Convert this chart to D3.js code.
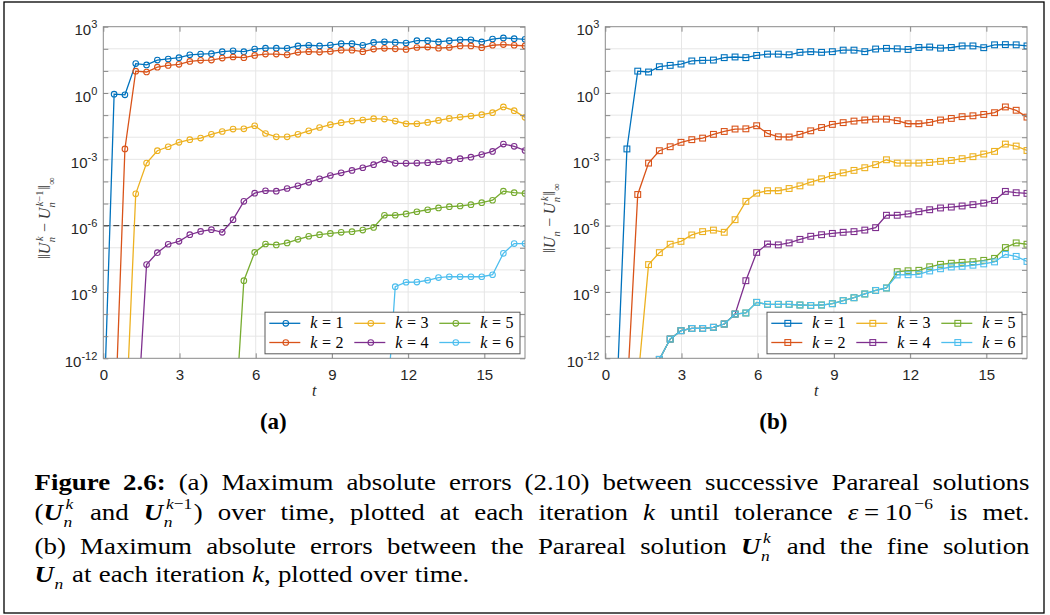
<!DOCTYPE html>
<html>
<head>
<meta charset="utf-8">
<script src="https://cdn.jsdelivr.net/npm/d3@7"></script>
<style>
  body { margin: 0; background: #fff; }
</style>
</head>
<body>
<script>
// time levels t_n, n = 0..39
const tValues = [0, 0.426, 0.851, 1.277, 1.703, 2.128, 2.554, 2.979, 3.405, 3.831,
  4.256, 4.682, 5.108, 5.533, 5.959, 6.385, 6.810, 7.236, 7.662, 8.087,
  8.513, 8.938, 9.364, 9.790, 10.215, 10.641, 11.067, 11.492, 11.918, 12.344,
  12.769, 13.195, 13.621, 14.046, 14.472, 14.897, 15.323, 15.749, 16.174, 16.600]

// (a) log10 ||U_n^k - U_n^(k-1)||_inf   (null = no point)
const aK1 = [-15.3, -0.05, -0.08, 1.33, 1.27, 1.49, 1.54, 1.60, 1.73, 1.76,
  1.78, 1.87, 1.91, 1.87, 1.99, 2.03, 2.03, 2.02, 2.13, 2.16,
  2.13, 2.17, 2.23, 2.23, 2.16, 2.29, 2.32, 2.29, 2.26, 2.37,
  2.37, 2.31, 2.37, 2.41, 2.41, 2.31, 2.44, 2.49, 2.46, 2.43]
const aK2 = [null, -15.96, -2.53, 0.99, 0.95, 1.17, 1.25, 1.30, 1.43, 1.48,
  1.49, 1.58, 1.63, 1.60, 1.70, 1.76, 1.76, 1.73, 1.84, 1.87,
  1.85, 1.88, 1.94, 1.94, 1.87, 1.99, 2.02, 2.00, 1.97, 2.06,
  2.08, 2.03, 2.06, 2.13, 2.13, 2.05, 2.16, 2.19, 2.16, 2.13]
const aK3 = [null, null, -15.8, -4.56, -3.17, -2.61, -2.43, -2.23, -2.11, -2.04,
  -1.87, -1.74, -1.63, -1.62, -1.48, -1.83, -1.98, -1.98, -1.87, -1.71,
  -1.56, -1.43, -1.34, -1.27, -1.22, -1.16, -1.18, -1.27, -1.39, -1.39,
  -1.33, -1.24, -1.15, -1.09, -1.04, -0.98, -0.89, -0.63, -0.80, -1.10]
const aK4 = [null, null, null, -15.98, -7.76, -7.22, -6.84, -6.71, -6.41, -6.26,
  -6.18, -6.30, -5.73, -4.90, -4.53, -4.42, -4.44, -4.32, -4.20, -4.04,
  -3.88, -3.73, -3.61, -3.50, -3.38, -3.24, -3.02, -3.18, -3.18, -3.17,
  -3.15, -3.11, -3.05, -2.97, -2.90, -2.78, -2.64, -2.31, -2.41, -2.60]
const aK5 = [null, null, null, null, null, null, null, null, null, null,
  null, null, -16.3, -8.49, -7.21, -6.83, -6.87, -6.78, -6.62, -6.48,
  -6.41, -6.35, -6.30, -6.27, -6.20, -6.08, -5.53, -5.53, -5.47, -5.37,
  -5.28, -5.20, -5.14, -5.11, -5.05, -4.96, -4.85, -4.44, -4.51, -4.54]
const aK6 = [null, null, null, null, null, null, null, null, null, null,
  null, null, null, null, null, null, null, null, null, null,
  null, null, null, null, null, null, -15.96, -8.76, -8.56, -8.55,
  -8.47, -8.35, -8.31, -8.31, -8.31, -8.31, -8.22, -7.25, -6.81, -6.81]

// (b) log10 ||U_n - U_n^k||_inf
const bK1 = [null, -14.43, -2.53, 0.99, 0.95, 1.19, 1.25, 1.31, 1.45, 1.48,
  1.49, 1.60, 1.63, 1.60, 1.70, 1.76, 1.76, 1.73, 1.84, 1.87,
  1.84, 1.87, 1.94, 1.94, 1.87, 1.99, 2.02, 2.00, 1.97, 2.06,
  2.08, 2.03, 2.06, 2.13, 2.13, 2.05, 2.18, 2.19, 2.18, 2.13]
const bK2 = [null, null, -13.74, -4.59, -3.17, -2.61, -2.43, -2.23, -2.11, -2.04,
  -1.87, -1.74, -1.63, -1.62, -1.48, -1.83, -1.98, -1.99, -1.87, -1.71,
  -1.56, -1.42, -1.34, -1.27, -1.22, -1.18, -1.18, -1.25, -1.39, -1.39,
  -1.33, -1.22, -1.15, -1.07, -1.03, -0.97, -0.89, -0.63, -0.78, -1.09]
const bK3 = [null, null, null, -13.1, -7.76, -7.22, -6.84, -6.71, -6.42, -6.27,
  -6.20, -6.30, -5.73, -4.90, -4.53, -4.42, -4.42, -4.32, -4.20, -4.03,
  -3.88, -3.73, -3.61, -3.50, -3.38, -3.24, -3.02, -3.17, -3.17, -3.17,
  -3.14, -3.09, -3.05, -2.97, -2.88, -2.76, -2.64, -2.31, -2.40, -2.60]
const bK4 = [null, null, null, null, -15.5, -12.05, -11.13, -10.75, -10.65, -10.65,
  -10.60, -10.45, -10.0, -8.49, -7.21, -6.83, -6.87, -6.78, -6.62, -6.48,
  -6.41, -6.35, -6.30, -6.27, -6.20, -6.09, -5.53, -5.53, -5.47, -5.37,
  -5.28, -5.20, -5.16, -5.11, -5.05, -4.98, -4.86, -4.45, -4.51, -4.54]
const bK5 = [null, null, null, null, -15.5, -12.05, -11.13, -10.75, -10.65, -10.65,
  -10.60, -10.45, -10.0, -9.95, -9.47, -9.56, -9.56, -9.56, -9.59, -9.61,
  -9.59, -9.53, -9.39, -9.26, -9.09, -8.93, -8.82, -8.08, -8.04, -8.02,
  -7.86, -7.75, -7.70, -7.66, -7.63, -7.57, -7.48, -6.99, -6.78, -6.84]
const bK6 = [null, null, null, null, -15.5, -12.05, -11.13, -10.75, -10.65, -10.65,
  -10.60, -10.45, -10.0, -9.95, -9.47, -9.56, -9.56, -9.56, -9.59, -9.61,
  -9.59, -9.53, -9.39, -9.26, -9.09, -8.93, -8.82, -8.23, -8.22, -8.20,
  -8.05, -7.95, -7.87, -7.84, -7.79, -7.73, -7.64, -7.30, -7.39, -7.62]

const kLabels = ['1', '2', '3', '4', '5', '6']
const xTicks = [0, 3, 6, 9, 12, 15]
const yTickExps = [3, 0, -3, -6, -9, -12]
const tolerance = 1e-6
const colors = ['#0072BD', '#D95319', '#EDB120', '#7E2F8E', '#77AC30', '#4DBEEE']

/* SVG */
let svgWidth = 1050
let svgHeight = 615
let svg = d3.select('body').append('svg').attr('width', svgWidth).attr('height', svgHeight)

const SERIF = "'Liberation Serif', 'DejaVu Serif', serif"
const SANS = "'Liberation Sans', Arial, sans-serif"
const axisColor = '#8a8a8a'
const textColor = '#262626'

// plot box
const plotTop = 26.7
const plotW = 421.7
const plotH = 331.6
const tMax = 16.6

const it = s => ({s: s, f: 'it'})
const rm = s => ({s: s, f: 'rm'})

function styleText(sel, f, size) {
  sel.attr('font-family', SERIF).attr('font-size', size)
    .attr('font-style', (f === 'it' || f === 'bi') ? 'italic' : 'normal')
    .attr('font-weight', (f === 'bf' || f === 'bi') ? 'bold' : 'normal')
}

// lays out a line of text with math bits; g is placed at the baseline start
function setMath(g, tokens, size, opts) {
  opts = opts || {}
  let items = []
  tokens.forEach(tk => {
    if (typeof tk === 'string') tk = rm(tk)
    if (tk.s !== undefined && !tk.pad) {
      tk.s.split(/( )/).forEach(p => {
        if (p === ' ') items.push({space: true})
        else if (p) items.push({s: p, f: tk.f})
      })
    } else items.push(tk)
  })
  items.forEach(d => {
    if (d.space) { d.w = size * 0.27; return }
    if (d.s !== undefined) {
      d.el = g.append('text').text(d.s).call(styleText, d.f, size)
      d.w = d.el.node().getComputedTextLength() + 2 * (d.pad || 0)
    } else {
      // stacked super/subscripts; superscript nudged right past the italic overhang
      d.parts = []
      let wSup = size * 0.1, wSub = size * 0.02
      ;(d.sup || []).forEach(p => {
        let e = g.append('text').text(p.s).call(styleText, p.f, size * 0.65)
        d.parts.push({e: e, dx: wSup, dy: -size * 0.44})
        wSup += e.node().getComputedTextLength()
      })
      ;(d.sub || []).forEach(p => {
        let e = g.append('text').text(p.s).call(styleText, p.f, size * 0.65)
        d.parts.push({e: e, dx: wSub, dy: size * 0.3})
        wSub += e.node().getComputedTextLength()
      })
      d.w = Math.max(wSup, wSub) + size * 0.06
    }
  })
  let natural = d3.sum(items, d => d.w)
  let nSp = items.filter(d => d.space).length
  let extra = (opts.width && nSp) ? (opts.width - natural) / nSp : 0
  let cx = opts.anchor === 'middle' ? -natural / 2 : 0
  items.forEach(d => {
    if (d.space) { cx += d.w + extra; return }
    if (d.el) d.el.attr('x', cx + (d.pad || 0)).attr('y', 0)
    else d.parts.forEach(p => p.e.attr('x', cx + p.dx).attr('y', p.dy))
    cx += d.w
  })
  return natural
}

function drawPanel(cfg) {
  let left = cfg.left
  let bottom = plotTop + plotH
  let x = d3.scaleLinear().domain([0, tMax]).range([left, left + plotW])
  let y = d3.scaleLog().domain([1e-12, 1e3]).range([bottom, plotTop])
  let g = svg.append('g')

  // grid
  g.append('g').selectAll('line').data(d3.range(-11, 3)).join('line')
    .attr('x1', left).attr('x2', left + plotW)
    .attr('y1', e => y(Math.pow(10, e))).attr('y2', e => y(Math.pow(10, e)))
    .attr('stroke', '#e6e6e6').attr('stroke-width', 1)
  g.append('g').selectAll('line').data(xTicks.slice(1)).join('line')
    .attr('x1', d => x(d)).attr('x2', d => x(d))
    .attr('y1', plotTop).attr('y2', bottom)
    .attr('stroke', '#e6e6e6').attr('stroke-width', 1)

  if (cfg.tol) {
    g.append('line').attr('x1', left).attr('x2', left + plotW)
      .attr('y1', y(tolerance)).attr('y2', y(tolerance))
      .attr('stroke', '#262626').attr('stroke-width', 1).attr('stroke-dasharray', '6,4')
  }

  // series
  svg.append('clipPath').attr('id', 'clip-' + cfg.id).append('rect')
    .attr('x', left).attr('y', plotTop).attr('width', plotW).attr('height', plotH)
  let plot = g.append('g').attr('clip-path', `url(#clip-${cfg.id})`)
  let line = d3.line().defined(d => d.e != null)
    .x(d => x(d.t)).y(d => y(Math.pow(10, d.e)))

  cfg.series.forEach((arr, i) => {
    let pts = arr.map((e, n) => ({t: tValues[n], e: e}))
    plot.append('path').datum(pts).attr('d', line)
      .attr('fill', 'none').attr('stroke', colors[i]).attr('stroke-width', 1.3)
    let vis = pts.filter(d => d.e != null)
    drawMarkers(plot, vis, cfg.marker, colors[i], d => x(d.t), d => y(Math.pow(10, d.e)))
  })

  // box
  g.append('rect').attr('x', left).attr('y', plotTop).attr('width', plotW).attr('height', plotH)
    .attr('fill', 'none').attr('stroke', axisColor).attr('stroke-width', 1)

  // ticks
  let decades = d3.range(-12, 4).map(e => Math.pow(10, e))
  let axB = g.append('g').attr('transform', `translate(0,${bottom})`)
    .call(d3.axisBottom(x).tickValues(xTicks).tickSize(-5).tickSizeOuter(0).tickPadding(11))
  axB.select('.domain').remove()
  axB.selectAll('line').attr('stroke', axisColor)
  axB.selectAll('text').attr('font-family', SANS).attr('font-size', 15).attr('fill', textColor)

  let axT = g.append('g').attr('transform', `translate(0,${plotTop})`)
    .call(d3.axisTop(x).tickValues(xTicks).tickSize(-5).tickSizeOuter(0).tickFormat(''))
  axT.select('.domain').remove()
  axT.selectAll('line').attr('stroke', axisColor)

  let axL = g.append('g').attr('transform', `translate(${left},0)`)
    .call(d3.axisLeft(y).tickValues(decades).tickSize(-5).tickSizeOuter(0).tickFormat(''))
  axL.select('.domain').remove()
  axL.selectAll('line').attr('stroke', axisColor)

  let axR = g.append('g').attr('transform', `translate(${left + plotW},0)`)
    .call(d3.axisRight(y).tickValues(decades).tickSize(-5).tickSizeOuter(0).tickFormat(''))
  axR.select('.domain').remove()
  axR.selectAll('line').attr('stroke', axisColor)

  // y tick labels 10^e
  yTickExps.forEach(e => {
    let t = g.append('text').attr('x', left - 6).attr('y', y(Math.pow(10, e)) + 8.5)
      .attr('text-anchor', 'end').attr('font-family', SANS).attr('font-size', 15)
      .attr('fill', textColor)
    t.append('tspan').text('10')
    t.append('tspan').attr('dy', -7).attr('font-size', 11).text(String(e))
  })

  // axis labels
  let xl = g.append('g').attr('transform', `translate(${left + plotW / 2},${bottom + 38})`)
    .attr('fill', textColor)
  setMath(xl, [it('t')], 16, {anchor: 'middle'})

  let yl = g.append('g').attr('transform', `translate(${cfg.ylabelX},${plotTop + plotH / 2 + 25}) rotate(-90)`)
    .attr('fill', '#3a3a3a')
  setMath(yl, cfg.ylabel, 16, {anchor: 'middle'})

  // legend
  let lgW = 255, lgH = 41.6
  let lgX = left + plotW - 5 - lgW
  let lgY = bottom - 4.5 - lgH
  let lg = g.append('g').attr('transform', `translate(${lgX},${lgY})`)
  lg.append('rect').attr('width', lgW).attr('height', lgH)
    .attr('fill', '#fff').attr('stroke', '#5a5a5a').attr('stroke-width', 1)
  kLabels.forEach((k, i) => {
    let cx = 4.3 + Math.floor(i / 2) * 85
    let cy = i % 2 === 0 ? 11.1 : 30.3
    lg.append('line').attr('x1', cx).attr('x2', cx + 31).attr('y1', cy).attr('y2', cy)
      .attr('stroke', colors[i]).attr('stroke-width', 1.3)
    drawMarkers(lg, [{mx: cx + 16.5, my: cy}], cfg.marker, colors[i], d => d.mx, d => d.my)
    let tg = lg.append('g').attr('transform', `translate(${cx + 41},${cy + 5})`).attr('fill', '#000')
    setMath(tg, [it('k'), {s: '=', f: 'rm', pad: 4.5}, rm(k)], 16)
  })

  // sub-figure label
  let pl = g.append('g').attr('transform', `translate(${cfg.tagX},429)`).attr('fill', '#000')
  setMath(pl, [{s: cfg.tag, f: 'bf'}], 23, {anchor: 'middle'})
}

function drawMarkers(sel, data, type, color, fx, fy) {
  if (type === 'circle') {
    sel.append('g').selectAll('circle').data(data).join('circle')
      .attr('cx', fx).attr('cy', fy).attr('r', 2.8)
      .attr('fill', 'none').attr('stroke', color).attr('stroke-width', 1.1)
  } else {
    sel.append('g').selectAll('rect').data(data).join('rect')
      .attr('x', d => fx(d) - 2.9).attr('y', d => fy(d) - 2.9).attr('width', 5.8).attr('height', 5.8)
      .attr('fill', 'none').attr('stroke', color).attr('stroke-width', 1.1)
  }
}

const U = {s: 'U', f: 'it'}

drawPanel({
  id: 'a', left: 103.3, marker: 'circle', tol: true,
  series: [aK1, aK2, aK3, aK4, aK5, aK6],
  ylabelX: 50, tag: '(a)', tagX: 273.3,
  ylabel: ['\u2016', U, {sup: [it('k')], sub: [it('n')]}, {s: '\u2212', f: 'rm', pad: 3.5},
    U, {sup: [it('k'), rm('\u22121')], sub: [it('n')]}, '\u2016', {sub: [rm('\u221e')]}]
})

drawPanel({
  id: 'b', left: 605.3, marker: 'square', tol: false,
  series: [bK1, bK2, bK3, bK4, bK5, bK6],
  ylabelX: 555, tag: '(b)', tagX: 773.3,
  ylabel: ['\u2016', U, {sub: [it('n')]}, {s: '\u2212', f: 'rm', pad: 3.5},
    U, {sup: [it('k')], sub: [it('n')]}, '\u2016', {sub: [rm('\u221e')]}]
})

/* CAPTION */
// Computer Modern is wider than Liberation Serif, so the caption is stretched horizontally
const capScale = 1.12
const capLeft = 34.5
const capWidth = 995
const UB = {s: 'U', f: 'bi'}
const captionLines = [
  {y: 490, justify: true, tokens: [{s: 'Figure 2.6:', f: 'bf'},
    ' (a) Maximum absolute errors (2.10) between successive Parareal solutions']},
  {y: 520, justify: true, tokens: ['(', UB, {sup: [it('k')], sub: [it('n')]}, ' and ', UB,
    {sup: [it('k'), rm('\u22121')], sub: [it('n')]}, ') over time, plotted at each iteration ', it('k'),
    ' until tolerance ', it('\u03b5'), {s: '=', f: 'rm', pad: 5}, '10', {sup: [rm('\u22126')]}, ' is met.']},
  {y: 554, justify: true, tokens: ['(b) Maximum absolute errors between the Parareal solution ', UB,
    {sup: [it('k')], sub: [it('n')]}, ' and the fine solution']},
  {y: 582, justify: false, tokens: [UB, {sub: [it('n')]}, ' at each iteration ', it('k'), ', plotted over time.']}
]

captionLines.forEach(l => {
  let g = svg.append('g').attr('transform', `translate(${capLeft},${l.y}) scale(${capScale},1)`).attr('fill', '#000')
  setMath(g, l.tokens, 24, {width: l.justify ? capWidth / capScale : null})
})

// outer frame
svg.append('rect').attr('x', 4).attr('y', 2).attr('width', 1040).attr('height', 611)
  .attr('fill', 'none').attr('stroke', '#000').attr('stroke-width', 1.3)
</script>
</body>
</html>
